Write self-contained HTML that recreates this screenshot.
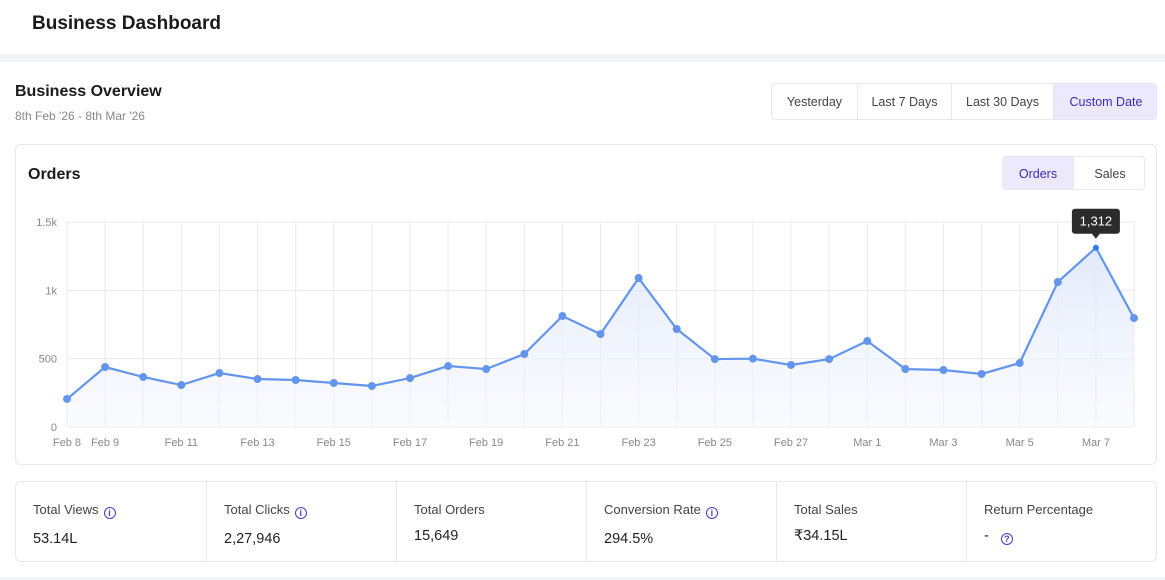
<!DOCTYPE html>
<html><head><meta charset="utf-8">
<style>
*{box-sizing:border-box;margin:0;padding:0}
body{width:1165px;height:580px;overflow:hidden;background:#fff;font-family:"Liberation Sans",sans-serif;position:relative;color:#1a1a1a}
.abs{position:absolute}
.btn{position:absolute;top:0;height:36px;line-height:36px;text-align:center;font-size:12.5px;color:#444;border-right:1px solid #e6e8ee}
.cell{position:absolute;top:0;height:80px;border-right:1px solid #e6e8ee}
.lbl{position:absolute;left:17px;top:20px;font-size:13px;color:#444}
.val{position:absolute;left:17px;top:49px;font-size:14.5px;color:#222}
.info{display:inline-block;width:12px;height:12px;border:1.3px solid #4b3bc4;border-radius:50%;font-size:9px;line-height:10px;text-align:center;color:#4b3bc4;margin-left:5px;vertical-align:-2px;font-weight:bold}
</style></head><body>
<div class="abs" style="left:32px;top:13px;font-size:19px;font-weight:bold">Business Dashboard</div>
<div class="abs" style="left:0;top:54px;width:1165px;height:8px;background:#f2f4f8"></div>
<div class="abs" style="left:15px;top:83px;font-size:16px;font-weight:bold">Business Overview</div>
<div class="abs" style="left:15px;top:109px;font-size:12px;color:#888">8th Feb '26 - 8th Mar '26</div>
<div class="abs" style="left:771px;top:83px;width:386px;height:37px;border:1px solid #e6e8ee;border-radius:4px;overflow:hidden">
<div class="btn" style="left:0;width:86px">Yesterday</div>
<div class="btn" style="left:86px;width:94px">Last 7 Days</div>
<div class="btn" style="left:180px;width:102px">Last 30 Days</div>
<div class="btn" style="left:282px;width:104px;background:#ede9fd;color:#3b2bb0;border:none">Custom Date</div>
</div>
<div class="abs" style="left:15px;top:144px;width:1142px;height:321px;border:1px solid #e6e8ee;border-radius:6px"></div>
<div class="abs" style="left:28px;top:166px;font-size:16px;font-weight:bold">Orders</div>
<div class="abs" style="left:1002px;top:156px;width:143px;height:34px;border:1px solid #e6e8ee;border-radius:4px;overflow:hidden">
<div class="btn" style="left:0;width:71px;height:34px;line-height:34px;background:#ede9fd;color:#3b2bb0">Orders</div>
<div class="btn" style="left:71px;width:72px;height:34px;line-height:34px;border:none">Sales</div>
</div>
<svg id="chart" class="abs" style="left:0;top:0" width="1165" height="580">
<defs><linearGradient id="g" x1="0" y1="0" x2="0" y2="1"><stop offset="0" stop-color="#dfe7fa" stop-opacity="0.9"/><stop offset="1" stop-color="#f5f7fd" stop-opacity="0.5"/></linearGradient></defs>
</svg>
<div class="abs" style="left:15px;top:481px;width:1142px;height:81px;border:1px solid #e6e8ee;border-radius:6px;overflow:hidden">
<div class="cell" style="left:0;width:191px"><div class="lbl">Total Views<span class="info">i</span></div><div class="val">53.14L</div></div>
<div class="cell" style="left:191px;width:190px"><div class="lbl">Total Clicks<span class="info">i</span></div><div class="val">2,27,946</div></div>
<div class="cell" style="left:381px;width:190px"><div class="lbl">Total Orders</div><div class="val" style="top:46px">15,649</div></div>
<div class="cell" style="left:571px;width:190px"><div class="lbl">Conversion Rate<span class="info">i</span></div><div class="val">294.5%</div></div>
<div class="cell" style="left:761px;width:190px"><div class="lbl">Total Sales</div><div class="val" style="top:46px">₹34.15L</div></div>
<div class="cell" style="left:951px;width:191px;border:none"><div class="lbl">Return Percentage</div><div class="val" style="top:46px">-<span class="info" style="margin-left:12px">?</span></div></div>
</div>
<div class="abs" style="left:0;top:577px;width:1165px;height:3px;background:#f2f4f8"></div>
<script>
const categories=["Feb 8","Feb 9","Feb 10","Feb 11","Feb 12","Feb 13","Feb 14","Feb 15","Feb 16","Feb 17","Feb 18","Feb 19","Feb 20","Feb 21","Feb 22","Feb 23","Feb 24","Feb 25","Feb 26","Feb 27","Feb 28","Mar 1","Mar 2","Mar 3","Mar 4","Mar 5","Mar 6","Mar 7","Mar 8"];
const orders=[205,439,366,307,395,351,344,322,300,358,446,424,534,812,680,1090,717,497,500,454,497,629,424,417,388,468,1061,1312,797];
const yTicks=[0,500,1000,1500];
const yTickLabels=["0","500","1k","1.5k"];
const xLabelIdx=[0,1,3,5,7,9,11,13,15,17,19,21,23,25,27];
const tooltipIdx=27;
const NS="http://www.w3.org/2000/svg";
const svg=document.getElementById('chart');
const X0=67,X1=1134,Y0=427,Y1=222;
const x=i=>X0+(X1-X0)*i/(categories.length-1);
const y=v=>Y0-(Y0-Y1)*v/1500;
function mk(t,a){const e=document.createElementNS(NS,t);for(const k in a)e.setAttribute(k,a[k]);svg.appendChild(e);return e;}
categories.forEach((c,i)=>{const l=mk('line',{x1:x(i),x2:x(i),y1:Y1,y2:Y0,stroke:'#e8eaf0','stroke-width':1});

});
yTicks.forEach((t,i)=>{const l=mk('line',{x1:X0,x2:X1,y1:y(t),y2:y(t),stroke:'#e8eaf0','stroke-width':1});


const tx=mk('text',{x:57,y:y(t)+4,'text-anchor':'end','font-size':11,fill:'#888'});tx.textContent=yTickLabels[i];

});
xLabelIdx.forEach(i=>{const tx=mk('text',{x:x(i),y:446,'text-anchor':'middle','font-size':11,fill:'#888'});tx.textContent=categories[i];

});
let d='';orders.forEach((v,i)=>{d+=(i?'L':'M')+x(i)+','+y(v);});
const area=mk('path',{d:d+'L'+x(orders.length-1)+','+Y0+'L'+X0+','+Y0+'Z',fill:'url(#g)'});


const line=mk('path',{d:d,fill:'none',stroke:'#6495ed','stroke-width':2.2});


orders.forEach((v,i)=>{const c=mk('circle',{cx:x(i),cy:y(v),r:i===tooltipIdx?3:4,fill:i===tooltipIdx?'#2f7cf6':'#6495ed'});

});
const tx0=x(tooltipIdx),ty0=y(orders[tooltipIdx]);
const tb=mk('path',{d:`M${tx0-21},${ty0-39}h42a3,3 0 0 1 3,3v19a3,3 0 0 1 -3,3h-17l-4,5l-4,-5h-17a3,3 0 0 1 -3,-3v-19a3,3 0 0 1 3,-3z`,fill:'#2b2b2b'});


const tt=mk('text',{x:tx0,y:ty0-22,'text-anchor':'middle','font-size':13,fill:'#fff'});tt.textContent=orders[tooltipIdx].toLocaleString('en-US');


</script>
</body></html>
